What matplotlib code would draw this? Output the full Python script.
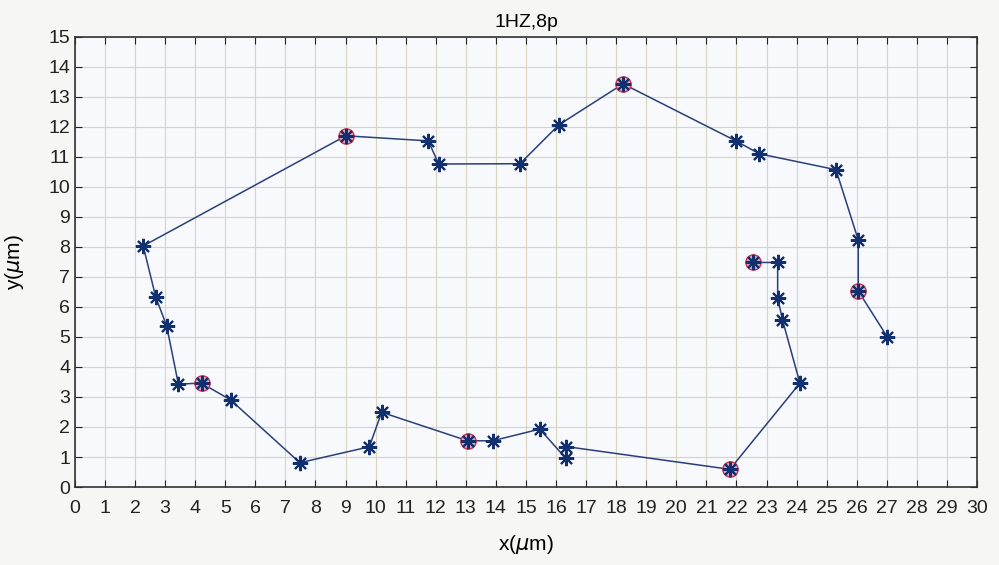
"""Trajectory plot, 1HZ,8p."""

import matplotlib
matplotlib.use('Agg')
from matplotlib import pyplot as plt

# Path points in order (um)
x_path = [22.55, 23.37, 23.37, 23.53, 24.11, 21.78, 16.32, 16.32, 15.46,
          13.89, 13.06, 10.2, 9.79, 7.48, 5.18, 4.21, 3.44, 3.05, 2.69,
          2.27, 9.01, 11.75, 12.1, 14.8, 16.1, 18.23, 21.98, 22.76, 25.31,
          26.05, 26.05, 27.01]
y_path = [7.48, 7.48, 6.31, 5.57, 3.46, 0.59, 1.35, 0.96, 1.93,
          1.54, 1.54, 2.49, 1.34, 0.81, 2.9, 3.46, 3.43, 5.37, 6.32,
          8.03, 11.7, 11.53, 10.76, 10.77, 12.07, 13.43, 11.53, 11.1, 10.57,
          8.23, 6.53, 5.01]

# Highlighted points (red circles)
x_marked = [22.55, 21.78, 13.06, 4.21, 9.01, 18.23, 26.05]
y_marked = [7.48, 0.59, 1.54, 3.46, 11.7, 13.43, 6.53]

x_ticks = list(range(0, 31))
y_ticks = list(range(0, 16))

plt.rcParams['font.family'] = ['Liberation Sans', 'DejaVu Sans']


def main():
    fig = plt.figure(figsize=(9.99, 5.65), dpi=100, facecolor='#f6f6f4')
    ax = fig.add_axes([0.075, 0.138, 0.903, 0.797])
    ax.set_facecolor('#f7f9fc')

    ax.plot(x_marked, y_marked, 'o', color='#d0304a', markersize=11,
            markerfacecolor='#d9a8c4', markeredgewidth=1.0, zorder=3)
    ax.plot(x_path, y_path, '-', color='#2a3f7a', linewidth=1.1, zorder=2)
    ax.plot(x_path, y_path, marker=(8, 2, 0), color='#13306e',
            markersize=11, markeredgewidth=1.5, linestyle='none', zorder=4)

    ax.set_xlim(0, 30)
    ax.set_ylim(0, 15)
    ax.set_xticks(x_ticks)
    ax.set_yticks(y_ticks)
    ax.grid(True, color='#d8d4bd', linewidth=0.8)
    ax.set_axisbelow(True)
    ax.tick_params(direction='in', top=True, right=True, length=5,
                   labelsize=14, colors='#222222')
    ax.tick_params(axis='x', pad=9)
    for spine in ax.spines.values():
        spine.set_color('#333333')
        spine.set_linewidth(1.2)

    ax.set_title('1HZ,8p', fontsize=14, pad=7)
    ax.set_xlabel(r'x($\mu$m)', fontsize=15, labelpad=12)
    ax.set_ylabel(r'y($\mu$m)', fontsize=15, labelpad=16)

    fig.savefig('out.png', dpi=100, facecolor=fig.get_facecolor())


if __name__ == "__main__":
    main()
